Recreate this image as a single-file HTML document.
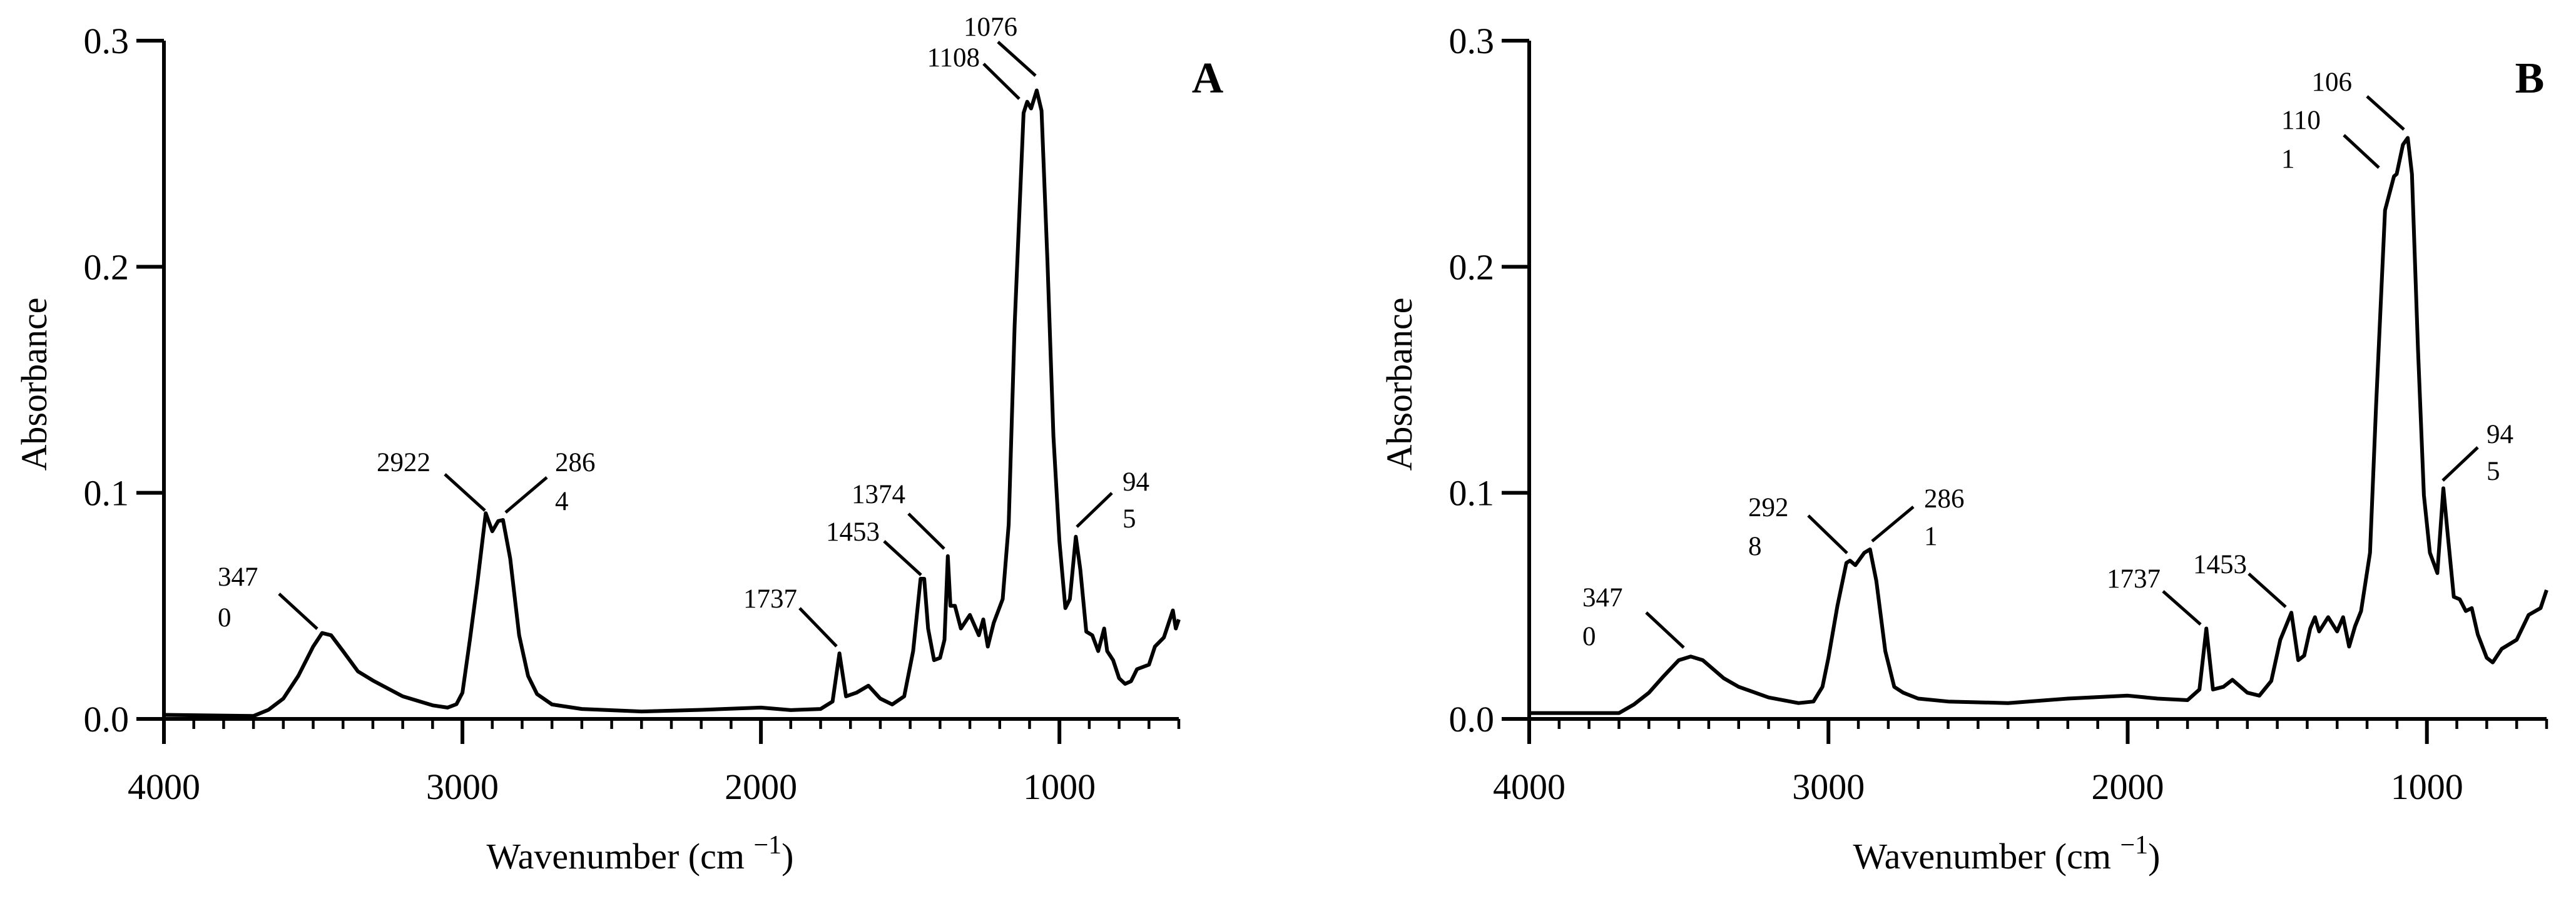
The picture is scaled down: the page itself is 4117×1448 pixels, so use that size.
<!DOCTYPE html>
<html><head><meta charset="utf-8"><style>
html,body{margin:0;padding:0;background:#fff;}
svg{display:block;font-family:"Liberation Serif",serif;}
</style></head><body>
<svg id="fig" width="4117" height="1448" viewBox="0 0 4117 1448">
<g id="panelA"></g>
<g id="panelB"></g>
</svg>
<script>
const xTicks = [4000, 3000, 2000, 1000];
const yTicks = [0.0, 0.1, 0.2, 0.3];
const yTickLabels = ["0.0", "0.1", "0.2", "0.3"];
const waveA = [4000,3700,3650,3600,3550,3500,3470,3440,3400,3350,3300,3200,3100,3050,3020,3000,2975,2950,2922,2900,2880,2864,2840,2810,2780,2750,2700,2600,2400,2200,2000,1900,1800,1760,1737,1715,1680,1640,1600,1560,1520,1490,1465,1453,1440,1420,1400,1385,1374,1365,1350,1330,1300,1270,1255,1240,1220,1190,1170,1150,1120,1108,1095,1076,1060,1040,1020,1000,980,965,945,930,910,890,870,850,840,820,800,780,760,740,700,680,650,620,610,600];
const absA = [0.0018,0.0013,0.004,0.009,0.019,0.032,0.038,0.037,0.030,0.021,0.017,0.010,0.006,0.005,0.0065,0.0116,0.035,0.060,0.091,0.083,0.0875,0.088,0.071,0.037,0.019,0.011,0.0064,0.0044,0.0033,0.004,0.005,0.0039,0.0044,0.0077,0.029,0.010,0.0116,0.0147,0.009,0.0064,0.010,0.030,0.062,0.062,0.040,0.026,0.027,0.035,0.072,0.050,0.050,0.040,0.046,0.037,0.044,0.032,0.0425,0.053,0.086,0.174,0.268,0.273,0.270,0.278,0.269,0.202,0.125,0.0785,0.049,0.053,0.0806,0.066,0.0386,0.037,0.030,0.040,0.030,0.026,0.018,0.0155,0.0167,0.022,0.024,0.032,0.036,0.048,0.040,0.044];
const waveB = [4000,3700,3650,3600,3550,3500,3460,3420,3350,3300,3200,3100,3050,3020,3000,2970,2940,2928,2910,2880,2861,2840,2810,2780,2750,2700,2600,2400,2200,2000,1900,1800,1760,1737,1715,1680,1650,1600,1560,1520,1490,1453,1430,1410,1390,1374,1360,1330,1300,1280,1260,1240,1220,1190,1170,1140,1110,1101,1080,1064,1050,1030,1010,990,965,945,930,910,890,870,850,830,800,780,750,700,660,620,600];
const absB = [0.0026,0.0026,0.0064,0.0116,0.019,0.026,0.0276,0.026,0.018,0.0142,0.0095,0.007,0.0077,0.0142,0.027,0.050,0.069,0.070,0.068,0.0735,0.075,0.061,0.030,0.0142,0.0116,0.009,0.0077,0.007,0.009,0.0103,0.009,0.0083,0.013,0.040,0.013,0.0142,0.0173,0.0116,0.0103,0.0168,0.035,0.047,0.026,0.028,0.040,0.045,0.0387,0.045,0.0387,0.045,0.032,0.041,0.0477,0.0735,0.138,0.225,0.240,0.241,0.254,0.257,0.241,0.164,0.099,0.0735,0.0645,0.102,0.081,0.054,0.0529,0.0477,0.049,0.0374,0.027,0.025,0.031,0.035,0.046,0.049,0.057];

const NS = "http://www.w3.org/2000/svg";
function mk(parent, tag, attrs, text){
  const e = document.createElementNS(NS, tag);
  for (const k in attrs) e.setAttribute(k, attrs[k]);
  if (text !== undefined) e.textContent = text;
  parent.appendChild(e);
  return e;
}

function drawPanel(g, x0, x1, waves, vals, letter, letterX, annots){
  const yTop = 65, yBot = 1149;
  const X = w => x0 + (4000 - w) / 3400 * (x1 - x0);
  const Y = v => yBot - v / 0.3 * (yBot - yTop);
  const ya = mk(g, "line", {x1:x0, y1:yTop, x2:x0, y2:yBot+40, stroke:"#000", "stroke-width":6});
  
  
  const xa = mk(g, "line", {x1:x0-2, y1:yBot, x2:x1, y2:yBot, stroke:"#000", "stroke-width":6});
  
  
  for (let w = 3900; w >= 600; w -= 100){
    const t = mk(g, "line", {x1:X(w), y1:yBot, x2:X(w), y2:yBot + (w % 1000 === 0 ? 40 : 16), stroke:"#000", "stroke-width":4.5});
    
    
  }
  xTicks.forEach(w => {
    const t = mk(g, "line", {x1:X(w), y1:yBot, x2:X(w), y2:yBot+40, stroke:"#000", "stroke-width":6});
    
    
    const l = mk(g, "text", {x:X(w), y:yBot+128, "font-size":58, "text-anchor":"middle"}, String(w));
    
    
  });
  yTicks.forEach((v, i) => {
    const t = mk(g, "line", {x1:x0-44, y1:Y(v), x2:x0, y2:Y(v), stroke:"#000", "stroke-width":6});
    
    
    const l = mk(g, "text", {x:x0-56, y:Y(v)+20, "font-size":58, "text-anchor":"end"}, yTickLabels[i]);
    
    
  });
  const xt = mk(g, "text", {x:(x0+x1)/2 - 50, y:1388, "font-size":58, "text-anchor":"middle"});
  
  
  xt.appendChild(document.createTextNode("Wavenumber (cm "));
  mk(xt, "tspan", {dy:-24, "font-size":42}, "\u22121");
  mk(xt, "tspan", {dy:24}, ")");
  const yt = mk(g, "text", {x:0, y:0, "font-size":58, "text-anchor":"middle", transform:`translate(${x0-188},614) rotate(-90)`}, "Absorbance");
  
  
  let d = "";
  waves.forEach((w, i) => { d += (i ? "L" : "M") + X(w).toFixed(1) + "," + Y(vals[i]).toFixed(1); });
  const p = mk(g, "path", {d:d, fill:"none", stroke:"#000", "stroke-width":6, "stroke-linejoin":"round"});
  
  
  const L = mk(g, "text", {x:letterX, y:148, "font-size":70, "font-weight":"bold", "text-anchor":"middle"}, letter);
  
  
  annots.forEach(a => {
    const ln = mk(g, "line", {x1:a.l[0], y1:a.l[1], x2:a.l[2], y2:a.l[3], stroke:"#000", "stroke-width":5});
    
    
    a.t.forEach(tt => {
      const tx = mk(g, "text", {x:tt[0], y:tt[1]+15, "font-size":43, "text-anchor":tt[3]||"start"}, tt[2]);
      
      
    });
  });
}

drawPanel(document.getElementById("panelA"), 262, 1884, waveA, absA, "A", 1930, [
  {l:[446,949,507,1005], t:[[348,921,"347"],[348,986,"0"]]},
  {l:[711,758,775,816], t:[[688,738,"2922","end"]]},
  {l:[874,763,808,819], t:[[887,738,"286"],[887,800,"4"]]},
  {l:[1278,972,1337,1033], t:[[1274,956,"1737","end"]]},
  {l:[1413,865,1472,919], t:[[1406,849,"1453","end"]]},
  {l:[1452,821,1509,877], t:[[1447,789,"1374","end"]]},
  {l:[1572,102,1629,158], t:[[1566,91,"1108","end"]]},
  {l:[1595,67,1655,121], t:[[1626,42,"1076","end"]]},
  {l:[1777,788,1721,842], t:[[1794,769,"94"],[1794,828,"5"]]}
]);
drawPanel(document.getElementById("panelB"), 2444, 4070, waveB, absB, "B", 4043, [
  {l:[2631,979,2691,1035], t:[[2529,954,"347"],[2529,1016,"0"]]},
  {l:[2890,824,2952,884], t:[[2794,810,"292"],[2794,872,"8"]]},
  {l:[3058,810,2992,865], t:[[3075,796,"286"],[3075,856,"1"]]},
  {l:[3457,945,3517,998], t:[[3453,924,"1737","end"]]},
  {l:[3594,917,3653,970], t:[[3591,901,"1453","end"]]},
  {l:[3746,216,3802,268], t:[[3646,191,"110"],[3646,253,"1"]]},
  {l:[3783,154,3842,207], t:[[3759,130,"106","end"]]},
  {l:[3960,715,3904,768], t:[[3974,693,"94"],[3974,752,"5"]]}
]);
</script>
</body></html>
